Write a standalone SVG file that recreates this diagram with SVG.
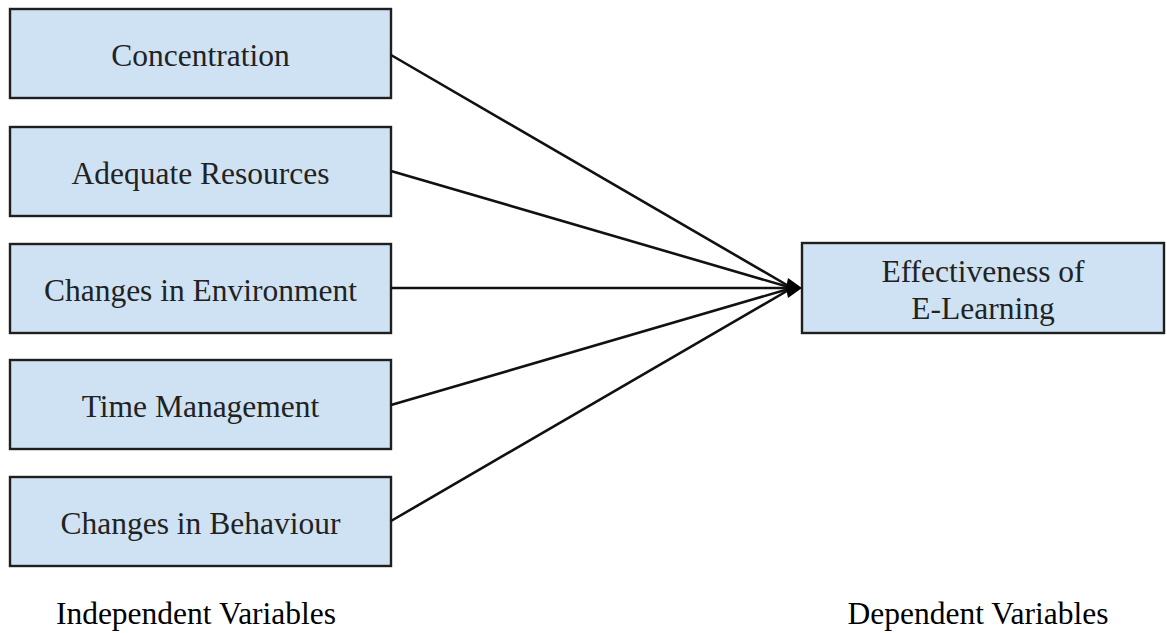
<svg xmlns="http://www.w3.org/2000/svg" width="1167" height="633" viewBox="0 0 1167 633">
<style>
.box{fill:#cfe2f3;stroke:#1f1f1f;stroke-width:2.4}
.t{font-family:"Liberation Serif","Times New Roman",serif;font-size:31.5px;fill:#222;text-anchor:middle}
.lab{font-family:"Liberation Serif","Times New Roman",serif;font-size:31.5px;fill:#000;text-anchor:middle}
.c{stroke:#111;stroke-width:2.6;fill:none}
</style>
<rect width="1167" height="633" fill="#fff"/>
<g id="concentration"><rect class="box" x="10" y="9" width="381" height="89"/><text class="t" x="200.5" y="66">Concentration</text></g>
<g id="adequate-resources"><rect class="box" x="10" y="127" width="381" height="89"/><text class="t" x="200.5" y="184">Adequate Resources</text></g>
<g id="changes-environment"><rect class="box" x="10" y="244" width="381" height="89"/><text class="t" x="200.5" y="301">Changes in Environment</text></g>
<g id="time-management"><rect class="box" x="10" y="360" width="381" height="89"/><text class="t" x="200.5" y="417">Time Management</text></g>
<g id="changes-behaviour"><rect class="box" x="10" y="477" width="381" height="89"/><text class="t" x="200.5" y="534">Changes in Behaviour</text></g>
<g id="effectiveness"><rect class="box" x="802" y="243" width="362" height="90"/><text class="t" x="983" y="282">Effectiveness of</text><text class="t" x="983" y="319">E-Learning</text></g>
<g id="connectors">
<line class="c" x1="391" y1="55" x2="792" y2="288"/>
<line class="c" x1="391" y1="171" x2="792" y2="288"/>
<line class="c" x1="391" y1="288" x2="792" y2="288"/>
<line class="c" x1="391" y1="405" x2="792" y2="288"/>
<line class="c" x1="391" y1="521" x2="792" y2="288"/>
<polygon points="802,288 788,278 786,288 788,298" fill="#000"/>
</g>
<text class="lab" x="196" y="624">Independent Variables</text>
<text class="lab" x="978" y="624">Dependent Variables</text>
</svg>
